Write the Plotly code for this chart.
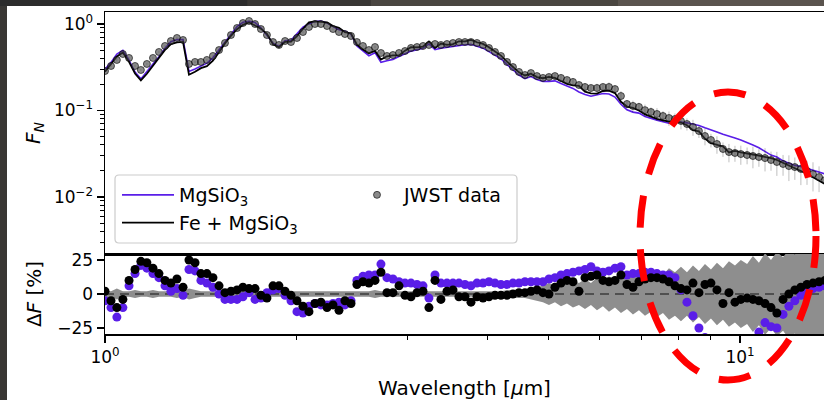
import plotly.graph_objects as go

# ---------------- data ----------------
wavelength = [1.000, 1.022, 1.044, 1.067, 1.091, 1.115, 1.139, 1.164, 1.190, 1.216,
              1.243, 1.270, 1.298, 1.327, 1.356, 1.386, 1.416, 1.447, 1.479, 1.512,
              1.545, 1.579, 1.614, 1.649, 1.686, 1.723, 1.760, 1.799, 1.839, 1.879,
              1.921, 1.963, 2.006, 2.050, 2.095, 2.141, 2.188, 2.237, 2.286, 2.336,
              2.387, 2.440, 2.493, 2.548, 2.604, 2.662, 2.720, 2.780, 2.841, 2.904,
              2.968, 3.033, 3.100, 3.168, 3.237, 3.309, 3.381, 3.456, 3.532, 3.609,
              3.689, 3.770, 3.853, 3.938, 4.024, 4.113, 4.203, 4.296, 4.390, 4.487,
              4.585, 4.686, 4.789, 4.894, 5.002, 5.112, 5.225, 5.340, 5.457, 5.577,
              5.700, 5.825, 5.953, 6.084, 6.218, 6.355, 6.494, 6.637, 6.783, 6.932,
              7.085, 7.241, 7.400, 7.563, 7.729, 7.899, 8.073, 8.250, 8.432, 8.617,
              8.807, 9.000, 9.198, 9.401, 9.607, 9.819, 10.03, 10.26, 10.48, 10.71,
              10.95, 11.19, 11.43, 11.69, 11.94, 12.20, 12.47, 12.75, 13.03, 13.32,
              13.61]

flux_jwst = [0.286, 0.327, 0.384, 0.450, 0.405, 0.327, 0.294, 0.345, 0.405, 0.475,
             0.557, 0.636, 0.689, 0.653, 0.345, 0.364, 0.364, 0.384, 0.427, 0.500,
             0.603, 0.746, 0.899, 1.027, 1.083, 1.000, 0.875, 0.746, 0.619, 0.572,
             0.636, 0.619, 0.689, 0.808, 0.923, 1.000, 1.000, 0.948, 0.875, 0.808,
             0.766, 0.727, 0.619, 0.557, 0.500, 0.542, 0.462, 0.427, 0.438, 0.462,
             0.487, 0.528, 0.542, 0.557, 0.572, 0.587, 0.572, 0.587, 0.603, 0.619,
             0.619, 0.619, 0.603, 0.572, 0.528, 0.475, 0.427, 0.364, 0.318, 0.279,
             0.257, 0.271, 0.250, 0.238, 0.244, 0.250, 0.238, 0.225, 0.214, 0.197,
             0.187, 0.182, 0.182, 0.187, 0.187, 0.177, 0.147, 0.119, 0.113, 0.110,
             0.101, 0.0961, 0.0911, 0.0864, 0.0819, 0.0797, 0.0756, 0.0698, 0.0645, 0.0579,
             0.0507, 0.0456, 0.0410, 0.0359, 0.0331, 0.0323, 0.0314, 0.0306, 0.0298, 0.0290,
             0.0282, 0.0268, 0.0254, 0.0241, 0.0228, 0.0222, 0.0211, 0.0200, 0.0184, 0.0170,
             0.0157]

flux_mgsio3 = [0.300, 0.360, 0.449, 0.495, 0.381, 0.278, 0.232, 0.279, 0.344, 0.418,
               0.524, 0.623, 0.661, 0.660, 0.283, 0.302, 0.328, 0.353, 0.406, 0.500,
               0.627, 0.776, 0.935, 1.048, 1.072, 1.040, 0.901, 0.739, 0.600, 0.549,
               0.642, 0.650, 0.779, 0.921, 1.006, 1.070, 1.080, 1.024, 0.936, 0.856,
               0.827, 0.763, 0.557, 0.485, 0.430, 0.466, 0.360, 0.376, 0.390, 0.420,
               0.448, 0.486, 0.504, 0.524, 0.589, 0.505, 0.526, 0.540, 0.555, 0.569,
               0.576, 0.582, 0.555, 0.526, 0.480, 0.437, 0.397, 0.339, 0.293, 0.257,
               0.234, 0.247, 0.228, 0.217, 0.217, 0.220, 0.205, 0.191, 0.180, 0.164,
               0.153, 0.146, 0.151, 0.157, 0.155, 0.143, 0.118, 0.102, 0.0958, 0.0933,
               0.0851, 0.0807, 0.0774, 0.0743, 0.0712, 0.0725, 0.0735, 0.0720, 0.0700, 0.0670,
               0.0630, 0.0600, 0.0565, 0.0530, 0.0500, 0.0480, 0.0455, 0.0428, 0.0399, 0.0371,
               0.0335, 0.0305, 0.0290, 0.0262, 0.0245, 0.0232, 0.0225, 0.0213, 0.0203, 0.0194,
               0.0185]

flux_fe_mgsio3 = [0.280, 0.343, 0.422, 0.468, 0.365, 0.268, 0.223, 0.266, 0.328, 0.404,
                  0.501, 0.585, 0.613, 0.620, 0.259, 0.280, 0.309, 0.326, 0.376, 0.470,
                  0.597, 0.731, 0.872, 0.976, 1.040, 0.960, 0.884, 0.768, 0.582, 0.538,
                  0.623, 0.625, 0.723, 0.881, 1.043, 1.070, 1.060, 1.043, 0.945, 0.905,
                  0.804, 0.778, 0.576, 0.507, 0.460, 0.488, 0.388, 0.423, 0.434, 0.434,
                  0.492, 0.539, 0.537, 0.546, 0.629, 0.528, 0.595, 0.575, 0.585, 0.631,
                  0.631, 0.656, 0.615, 0.589, 0.539, 0.480, 0.431, 0.368, 0.318, 0.276,
                  0.254, 0.266, 0.243, 0.236, 0.244, 0.238, 0.219, 0.203, 0.195, 0.193,
                  0.165, 0.158, 0.157, 0.168, 0.170, 0.159, 0.126, 0.111, 0.107, 0.0999,
                  0.0902, 0.0846, 0.0802, 0.0769, 0.0745, 0.0749, 0.0726, 0.0677, 0.0593, 0.0573,
                  0.0472, 0.0420, 0.0398, 0.0384, 0.0328, 0.0342, 0.0327, 0.0315, 0.0310, 0.0300,
                  0.0293, 0.0281, 0.0268, 0.0247, 0.0228, 0.0215, 0.0200, 0.0186, 0.0169, 0.0155,
                  0.0141]

resid_mgsio3 = [-5, -10, -17, -10, 6, 15, 21, 19, 15, 12,
                6, 2, 4, -1, 18, 17, 10, 8, 5, 0,
                -4, -4, -4, -2, 1, -4, -3, 1, 3, 4,
                -1, -5, -13, -14, -9, -7, -8, -8, -7, -6,
                -8, -5, 10, 13, 14, 14, 22, 12, 11, 9,
                8, 8, 7, 6, -3, 14, 8, 8, 8, 8,
                7, 6, 8, 8, 9, 8, 7, 7, 8, 8,
                9, 9, 9, 9, 11, 12, 14, 15, 16, 17,
                18, 20, 17, 16, 17, 19, 20, 14, 15, 15,
                16, 16, 15, 14, 14, 12, 3, -6, -16, -25,
                -32, -38, -45, -50, -52, -50, -45, -40, -34, -28,
                -21, -24, -25, -15, -9, -5, -1, 3, 4, 5,
                6]

resid_fe_mgsio3 = [2, -5, -10, -4, 10, 18, 24, 23, 19, 15,
                   10, 8, 11, 5, 25, 23, 15, 15, 12, 6,
                   1, 2, 3, 5, 4, 4, -1, -3, 6, 6,
                   2, -1, -5, -9, -13, -7, -6, -10, -8, -12,
                   -5, -7, 7, 9, 8, 10, 16, 1, 1, 6,
                   -1, -2, 1, 2, -10, 10, -4, 2, 3, -2,
                   -2, -6, -2, -3, -2, -1, -1, -1, 0, 1,
                   1, 2, 3, 1, 0, 5, 8, 10, 9, 2,
                   12, 13, 14, 10, 9, 10, 14, 7, 5, 9,
                   11, 12, 12, 11, 9, 6, 4, 3, 8, 1,
                   7, 8, 3, -7, 1, -6, -4, -3, -4, -5,
                   -7, -10, -14, -4, 0, 3, 5, 7, 8, 9,
                   10]

error_pct = [3, 2, 4, 2, 2, 3, 2, 2, 3, 2,
             2, 2, 3, 2, 4, 3, 2, 2, 2, 2,
             2, 2, 2, 2, 2, 2, 2, 2, 2, 2,
             2, 2, 2, 2, 2, 2, 2, 2, 2, 2,
             2, 2, 2, 2, 2, 3, 2, 2, 2, 2,
             2, 2, 2, 2, 2, 2, 2, 2, 2, 2,
             2, 2, 2, 2, 2, 2, 2, 3, 3, 3,
             3, 4, 5, 6, 8, 6, 9, 7, 10, 8,
             11, 8, 12, 9, 13, 10, 14, 11, 15, 12,
             16, 13, 17, 14, 19, 16, 20, 16, 21, 17,
             22, 18, 23, 19, 24, 21, 25, 22, 28, 23,
             30, 25, 31, 27, 33, 29, 35, 31, 37, 33,
             38]

x_ticks = [1, 10]
x_ticktext = ["10<sup>0</sup>", "10<sup>1</sup>"]
x_minor = [2, 3, 4, 5, 6, 7, 8, 9]
y_ticks = [0.01, 0.1, 1]
y_ticktext = ["10<sup>\u22122</sup>", "10<sup>\u22121</sup>", "10<sup>0</sup>"]
y_minor = [0.003, 0.004, 0.005, 0.006, 0.007, 0.008, 0.009,
           0.02, 0.03, 0.04, 0.05, 0.06, 0.07, 0.08, 0.09,
           0.2, 0.3, 0.4, 0.5, 0.6, 0.7, 0.8, 0.9]
r_ticks = [-25, 0, 25]
r_ticktext = ["\u221225", "0", "25"]

# ---------------- styling ----------------
W, H = 824, 400
PURPLE = "#5a1ee8"
FONT = "DejaVu Sans"
XL = 105 / W
XRANGE = [0, 719 / 635]

flux_err = [f * e / 100 for f, e in zip(flux_jwst, error_pct)]
band_x = wavelength + wavelength[::-1]
band_y = error_pct + [-e for e in error_pct[::-1]]

fig = go.Figure()

# top panel
fig.add_trace(go.Scatter(x=wavelength, y=flux_mgsio3, mode="lines",
                         line=dict(color=PURPLE, width=1.6),
                         name="MgSiO<sub>3</sub>", legend="legend",
                         xaxis="x", yaxis="y"))
fig.add_trace(go.Scatter(x=wavelength, y=flux_fe_mgsio3, mode="lines",
                         line=dict(color="black", width=1.8),
                         name="Fe + MgSiO<sub>3</sub>", legend="legend",
                         xaxis="x", yaxis="y"))
fig.add_trace(go.Scatter(x=wavelength, y=flux_jwst, mode="markers",
                         marker=dict(size=7, color="rgba(60,60,60,0.6)",
                                     line=dict(color="rgba(0,0,0,0.6)", width=1)),
                         error_y=dict(type="data", array=flux_err, color="rgba(0,0,0,0.25)",
                                      thickness=1, width=0),
                         name="JWST data", legend="legend2",
                         xaxis="x", yaxis="y"))

# bottom panel
fig.add_trace(go.Scatter(x=band_x, y=band_y, fill="toself", mode="lines",
                         fillcolor="#8e8e8e", line=dict(width=0, color="#8e8e8e"),
                         showlegend=False, hoverinfo="skip", xaxis="x2", yaxis="y2"))
fig.add_trace(go.Scatter(x=[wavelength[0], wavelength[-1]], y=[0, 0], mode="lines",
                         line=dict(color="#505050", width=2.2, dash="9px,6px"),
                         showlegend=False, xaxis="x2", yaxis="y2"))
fig.add_trace(go.Scatter(x=wavelength, y=resid_mgsio3, mode="markers",
                         marker=dict(size=9, color=PURPLE),
                         showlegend=False, xaxis="x2", yaxis="y2"))
fig.add_trace(go.Scatter(x=wavelength, y=resid_fe_mgsio3, mode="markers",
                         marker=dict(size=9, color="black"),
                         showlegend=False, xaxis="x2", yaxis="y2"))

axis_common = dict(showline=True, linecolor="black", linewidth=1.5, showgrid=False,
                   zeroline=False, tickcolor="black", tickwidth=1.3, automargin=False,
                   tickfont=dict(family=FONT, size=17, color="black"))

lx0, lx1 = 115 / W, 517 / W
ly0, ly1 = 1 - 243 / H, 1 - 175 / H
rx, ry = 4 / W, 4 / H
legend_path = (f"M {lx0+rx},{ly0} L {lx1-rx},{ly0} Q {lx1},{ly0} {lx1},{ly0+ry} "
               f"L {lx1},{ly1-ry} Q {lx1},{ly1} {lx1-rx},{ly1} L {lx0+rx},{ly1} "
               f"Q {lx0},{ly1} {lx0},{ly1-ry} L {lx0},{ly0+ry} Q {lx0},{ly0} {lx0+rx},{ly0} Z")

fig.update_layout(
    width=W, height=H,
    margin=dict(l=0, r=0, t=0, b=0, pad=0, autoexpand=False),
    paper_bgcolor="#393734",
    plot_bgcolor="white",
    font=dict(family=FONT, size=17, color="black"),
    hovermode=False,
    xaxis=dict(type="log", domain=[XL, 1], range=XRANGE, anchor="y",
               showticklabels=False, ticks="", mirror=True, **axis_common),
    yaxis=dict(type="log", domain=[1 - 254 / H, 1 - 12 / H], range=[-230 / 86.5, 12 / 86.5],
               anchor="x", tickvals=y_ticks, ticktext=y_ticktext, ticks="outside", ticklen=7,
               minor=dict(tickvals=y_minor, ticks="outside", ticklen=4, tickwidth=1,
                          tickcolor="black", showgrid=False),
               title=dict(text="<i>F</i><sub><i>N</i></sub>", font=dict(family=FONT, size=20),
                          standoff=8),
               **axis_common),
    xaxis2=dict(type="log", domain=[XL, 1], range=XRANGE, anchor="y2",
                tickvals=x_ticks, ticktext=x_ticktext, ticks="outside", ticklen=7,
                minor=dict(tickvals=x_minor, ticks="outside", ticklen=4, tickwidth=1,
                           tickcolor="black", showgrid=False),
                mirror=True,
                title=dict(text="Wavelength [<i>\u03bc</i>m]", font=dict(family=FONT, size=20),
                           standoff=16),
                **axis_common),
    yaxis2=dict(domain=[1 - 334 / H, 1 - 254 / H], range=[-40 / 1.36, 40 / 1.36], anchor="x2",
                tickvals=r_ticks, ticktext=r_ticktext, ticks="outside", ticklen=7,
                title=dict(text="\u0394<i>F</i> [%]", font=dict(family=FONT, size=20),
                           standoff=10),
                **axis_common),
    legend=dict(x=117 / W, y=1 - 176 / H, xanchor="left", yanchor="top",
                bgcolor="rgba(0,0,0,0)", borderwidth=0, itemwidth=52,
                font=dict(family=FONT, size=19, color="black"), traceorder="normal"),
    legend2=dict(x=350 / W, y=1 - 176 / H, xanchor="left", yanchor="top",
                 bgcolor="rgba(0,0,0,0)", borderwidth=0, itemwidth=44,
                 font=dict(family=FONT, size=19, color="black")),
    shapes=[
        # white photo area inside the dark frame
        dict(type="rect", xref="paper", yref="paper", x0=7 / W, x1=1, y0=0, y1=1 - 6 / H,
             fillcolor="white", line=dict(width=0), layer="below"),
        dict(type="rect", xref="paper", yref="paper", x0=0.45, x1=1, y0=1 - 6 / H, y1=1,
             fillcolor="#4a4641", line=dict(width=0), layer="below"),
        dict(type="rect", xref="paper", yref="paper", x0=0.75, x1=1, y0=1 - 6 / H, y1=1,
             fillcolor="#5a544e", line=dict(width=0), layer="below"),
        dict(type="rect", xref="paper", yref="paper", x0=0, x1=0.3, y0=1 - 6 / H, y1=1,
             fillcolor="#2c2c2c", line=dict(width=0), layer="below"),
        # legend frame
        dict(type="path", xref="paper", yref="paper", path=legend_path,
             fillcolor="rgba(255,255,255,0.8)", line=dict(color="#cccccc", width=1.2),
             layer="below"),
        # red dashed ellipse annotation
        dict(type="circle", xref="paper", yref="paper",
             x0=640 / W, x1=816 / W, y0=1 - 380 / H, y1=1 - 92 / H,
             line=dict(color="#ff0000", width=7, dash="32px,22px"), layer="above"),
    ],
)

fig.write_html("out.html",
               config={"displayModeBar": False, "staticPlot": True},
               post_script="document.body.style.margin='0';document.body.style.background='#393734';")
